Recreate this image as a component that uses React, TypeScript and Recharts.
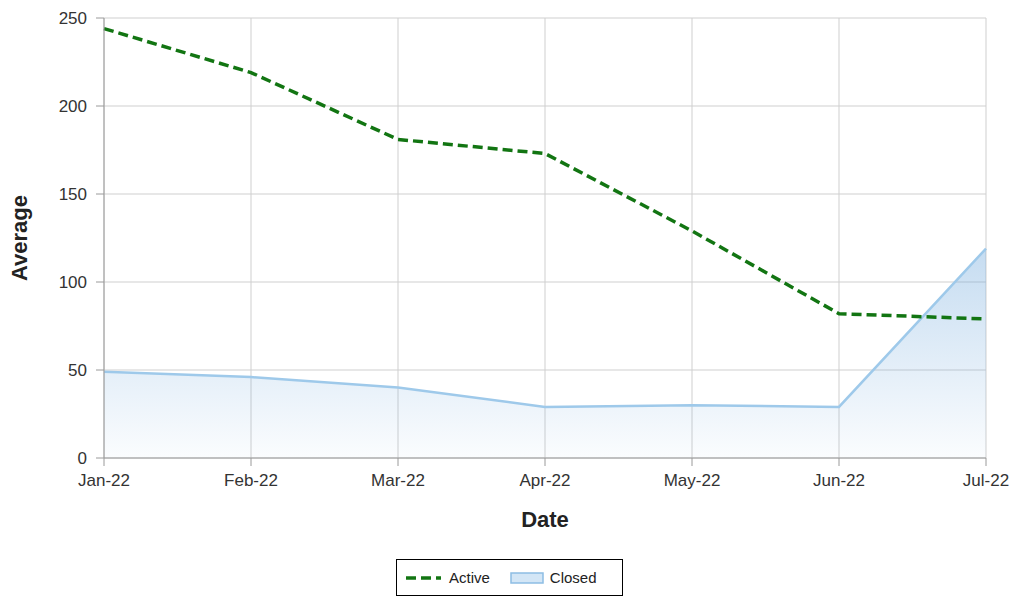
import React from 'react';
import {
  ComposedChart,
  Line,
  Area,
  XAxis,
  YAxis,
  CartesianGrid,
} from 'recharts';

// values
const months = ['Jan-22', 'Feb-22', 'Mar-22', 'Apr-22', 'May-22', 'Jun-22', 'Jul-22'];
const activeValues = [244, 219, 181, 173, 129, 82, 79];
const closedValues = [49, 46, 40, 29, 30, 29, 119];
const yTicks = [0, 50, 100, 150, 200, 250];

const data = months.map((m, i) => ({
  month: m,
  active: activeValues[i],
  closed: closedValues[i],
}));

const FONT = 'Arial, "Liberation Sans", sans-serif';

const LegendBox = () => (
  <div
    style={{
      position: 'absolute',
      left: 396,
      top: 559,
      width: 225,
      height: 35,
      border: '1px solid #000',
      background: '#fff',
      fontFamily: FONT,
      fontSize: 15,
      color: '#222',
      display: 'flex',
      alignItems: 'center',
      boxSizing: 'content-box',
    }}
  >
    <svg width={35} height={10} style={{ marginLeft: 9 }}>
      <line x1={0} y1={5} x2={35} y2={5} stroke="#127512" strokeWidth={3.5} strokeDasharray="10 5" />
    </svg>
    <span style={{ marginLeft: 8 }}>Active</span>
    <svg width={34} height={14} style={{ marginLeft: 20 }}>
      <rect x={1} y={2} width={32} height={10} fill="#d3e6f6" stroke="#8dbde4" strokeWidth={1.5} />
    </svg>
    <span style={{ marginLeft: 6 }}>Closed</span>
  </div>
);

export default function App() {
  return (
    <div style={{ position: 'absolute', left: 0, top: 0, width: 1015, height: 597, background: '#fff' }}>
      <ComposedChart
        width={1015}
        height={597}
        data={data}
        margin={{ top: 18, right: 29, left: 4, bottom: 59 }}
      >
        <defs>
          <linearGradient id="closedFill" x1="0" y1="0" x2="0" y2="1">
            <stop offset="0%" stopColor="#6fa8dc" stopOpacity={0.4} />
            <stop offset="100%" stopColor="#6fa8dc" stopOpacity={0.03} />
          </linearGradient>
        </defs>
        <CartesianGrid stroke="#cfcfcf" strokeWidth={1} />
        <XAxis
          dataKey="month"
          scale="point"
          padding={{ left: 0, right: 0 }}
          height={80}
          stroke="#9a9a9a"
          tickSize={8}
          tickMargin={8}
          tick={{ fill: '#333', fontSize: 17, fontFamily: FONT }}
          interval={0}
          label={{
            value: 'Date',
            position: 'insideBottom',
            offset: 11,
            style: { fill: '#222', fontSize: 22, fontWeight: 'bold', fontFamily: FONT },
          }}
        />
        <YAxis
          domain={[0, 250]}
          ticks={yTicks}
          width={100}
          stroke="#9a9a9a"
          tickSize={8}
          tickMargin={9}
          tick={{ fill: '#333', fontSize: 17, fontFamily: FONT }}
          label={{
            value: 'Average',
            angle: -90,
            position: 'insideLeft',
            offset: 15,
            style: { fill: '#222', fontSize: 22, fontWeight: 'bold', fontFamily: FONT, textAnchor: 'middle' },
          }}
        />
        <Line
          type="linear"
          dataKey="active"
          name="Active"
          stroke="#127512"
          strokeWidth={3.5}
          strokeDasharray="10 5"
          dot={false}
          activeDot={false}
          isAnimationActive={false}
        />
        <Area
          type="linear"
          dataKey="closed"
          name="Closed"
          stroke="#9ec9ea"
          strokeWidth={2.5}
          fill="url(#closedFill)"
          fillOpacity={1}
          dot={false}
          activeDot={false}
          isAnimationActive={false}
        />
      </ComposedChart>
      <LegendBox />
    </div>
  );
}
